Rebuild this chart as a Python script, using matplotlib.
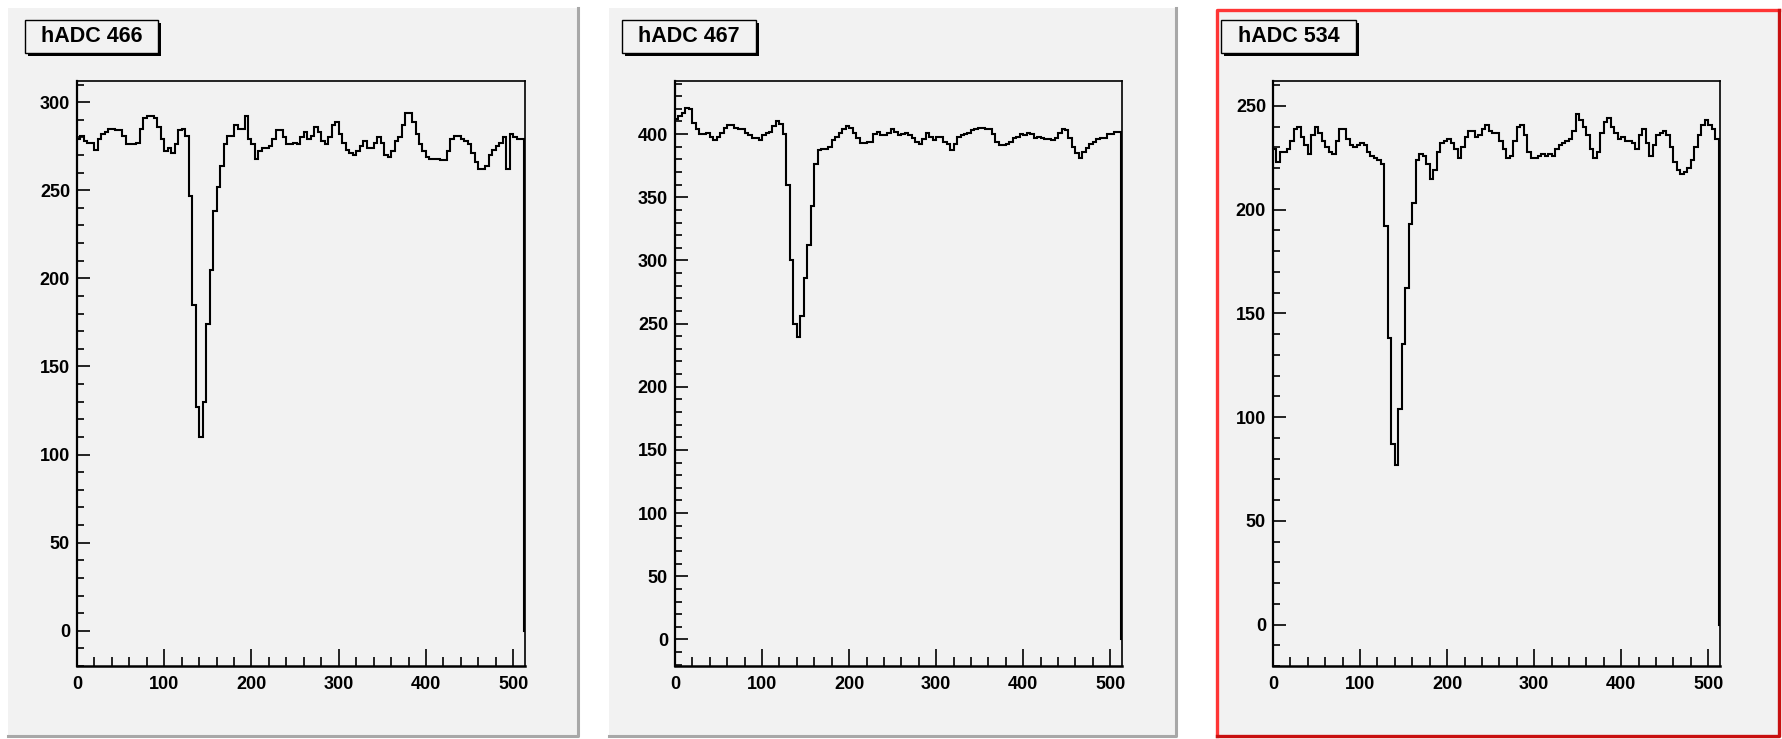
import numpy as np
import matplotlib
matplotlib.use("Agg")
import matplotlib.pyplot as plt
from matplotlib.patches import Rectangle
from matplotlib.lines import Line2D
from matplotlib.ticker import MultipleLocator

# ---- data: histogram contents, bins of width 4 starting at 0 ----
BIN_WIDTH = 4

titles = ["hADC 466", "hADC 467", "hADC 534"]

hadc_466 = [
    279, 281, 278, 277, 277, 273, 279, 282, 283, 285, 285, 284, 284, 281, 276, 276,
    276, 277, 285, 291, 292, 292, 291, 286, 279, 272, 274, 271, 276, 284, 285, 281,
    247, 185, 127, 110, 130, 174, 205, 238, 252, 264, 276, 281, 281, 287, 285, 285,
    292, 279, 276, 268, 272, 274, 274, 275, 279, 284, 284, 280, 276, 276, 277, 276,
    280, 283, 279, 281, 286, 283, 278, 276, 280, 287, 289, 282, 277, 273, 271, 270,
    272, 275, 278, 274, 274, 277, 280, 277, 270, 269, 272, 278, 280, 287, 294, 294,
    289, 282, 276, 272, 269, 268, 268, 268, 267, 267, 272, 279, 281, 281, 279, 278,
    276, 271, 266, 262, 262, 264, 270, 273, 275, 277, 280, 262, 282, 280, 279, 279,
    0,
]

hadc_467 = [
    412, 414, 417, 421, 420, 409, 404, 400, 400, 401, 398, 395, 398, 401, 405, 407,
    407, 405, 404, 404, 401, 399, 397, 397, 395, 399, 401, 402, 406, 410, 408, 400,
    360, 300, 250, 239, 256, 286, 312, 343, 376, 387, 388, 388, 390, 395, 398, 401,
    404, 406, 405, 401, 397, 393, 393, 394, 394, 400, 402, 399, 399, 401, 404, 402,
    399, 400, 401, 399, 397, 394, 392, 396, 401, 398, 395, 398, 398, 394, 392, 387,
    392, 398, 399, 400, 401, 403, 404, 405, 405, 404, 404, 400, 394, 391, 391, 392,
    394, 397, 398, 400, 399, 401, 400, 397, 398, 397, 396, 396, 395, 397, 401, 404,
    403, 397, 390, 385, 381, 386, 389, 392, 394, 396, 397, 397, 400, 400, 402, 402,
    0,
]

hadc_534 = [
    229, 223, 228, 228, 229, 233, 239, 240, 235, 231, 227, 236, 240, 237, 233, 230,
    228, 227, 233, 239, 239, 234, 231, 230, 231, 232, 231, 228, 226, 225, 224, 222,
    192, 138, 87, 77, 104, 135, 162, 193, 203, 224, 227, 226, 222, 215, 219, 228,
    232, 233, 234, 232, 229, 225, 230, 235, 238, 238, 235, 236, 239, 241, 238, 237,
    237, 233, 229, 225, 226, 233, 240, 241, 236, 228, 225, 225, 226, 227, 226, 227,
    226, 229, 231, 232, 233, 234, 238, 246, 243, 240, 236, 229, 225, 228, 237, 242,
    244, 240, 237, 234, 235, 233, 233, 232, 229, 236, 239, 232, 226, 231, 236, 237,
    238, 236, 230, 223, 219, 217, 218, 220, 224, 230, 236, 241, 243, 241, 239, 234,
    0,
]

series = [hadc_466, hadc_467, hadc_534]
y_ranges = [(-20, 312), (-21, 442), (-20, 262)]
x_range = (0, 513.5)

# ---- layout (canvas pixels) ----
W, H = 1783, 739
PAD_BG = "#f2f2f2"
pads = [(8, 8, 578, 736), (609, 8, 1176, 736), (1217, 10, 1779, 736)]
frames = [(77, 81, 525, 666), (675, 81, 1122, 666), (1273, 81, 1720, 666)]
title_boxes = [(25, 20, 158, 53), (622, 20, 756, 53), (1221, 20, 1356, 53)]

FONT = "Liberation Sans"


def fx(x):
    return x / W


def fy(y):
    return 1 - y / H


def rect(fig, x0, y0, x1, y1, **kw):
    r = Rectangle((fx(x0), fy(y1)), fx(x1) - fx(x0), fy(y0) - fy(y1),
                  transform=fig.transFigure, **kw)
    fig.add_artist(r)


def line(fig, xs, ys, **kw):
    fig.add_artist(Line2D([fx(v) for v in xs], [fy(v) for v in ys],
                          transform=fig.transFigure, **kw))


fig = plt.figure(figsize=(W / 100, H / 100), dpi=100)
fig.patch.set_facecolor("white")

for i, (vals, title) in enumerate(zip(series, titles)):
    px0, py0, px1, py1 = pads[i]
    rect(fig, px0, py0, px1, py1, facecolor=PAD_BG, edgecolor="none", zorder=0)
    if i == 2:
        # highlighted (selected) pad
        line(fig, [px0, px0, px1], [py1, py0, py0], color="#ff3535", lw=2.4, zorder=1)
        line(fig, [px0, px1, px1], [py1, py1, py0], color="#c81010", lw=2.4, zorder=1)
    else:
        line(fig, [px0, px1, px1], [py1, py1, py0], color="#a8a8a8", lw=2.2, zorder=1)

    # title box with shadow
    tx0, ty0, tx1, ty1 = title_boxes[i]
    rect(fig, tx0 + 3, ty0 + 3, tx1 + 3, ty1 + 3, facecolor="black", edgecolor="none", zorder=2)
    rect(fig, tx0, ty0, tx1, ty1, facecolor=PAD_BG, edgecolor="black", lw=1.0, zorder=3)
    fig.text(fx((tx0 + tx1) / 2), fy((ty0 + ty1) / 2), title, ha="center", va="center",
             fontsize=15.5, fontweight="bold", family=FONT, zorder=4)

    l, t, r, b = frames[i]
    ax = fig.add_axes([fx(l), fy(b), fx(r) - fx(l), fy(t) - fy(b)])
    ax.set_facecolor(PAD_BG)
    edges = np.arange(len(vals) + 1) * BIN_WIDTH
    ax.stairs(vals, edges, baseline=None, color="black", lw=1.5)
    ax.set_xlim(*x_range)
    ax.set_ylim(*y_ranges[i])

    for s in ax.spines.values():
        s.set_color("black")
        s.set_linewidth(1.2)
    ax.spines["bottom"].set_linewidth(1.8)
    ax.spines["left"].set_linewidth(1.6)

    ax.xaxis.set_major_locator(MultipleLocator(100))
    ax.xaxis.set_minor_locator(MultipleLocator(20))
    ax.yaxis.set_major_locator(MultipleLocator(50))
    ax.yaxis.set_minor_locator(MultipleLocator(10))
    ax.tick_params(axis="x", which="major", direction="in", length=12.5, width=1.2, pad=7)
    ax.tick_params(axis="x", which="minor", direction="in", length=6.3, width=1.2)
    ax.tick_params(axis="y", which="major", direction="in", length=9.5, width=1.2, pad=5)
    ax.tick_params(axis="y", which="minor", direction="in", length=4.8, width=1.2)
    ax.tick_params(top=False, right=False, which="both")
    for lab in ax.get_xticklabels() + ax.get_yticklabels():
        lab.set_fontweight("bold")
        lab.set_fontsize(13)
        lab.set_family(FONT)

fig.savefig("out.png", dpi=100, facecolor="white")
